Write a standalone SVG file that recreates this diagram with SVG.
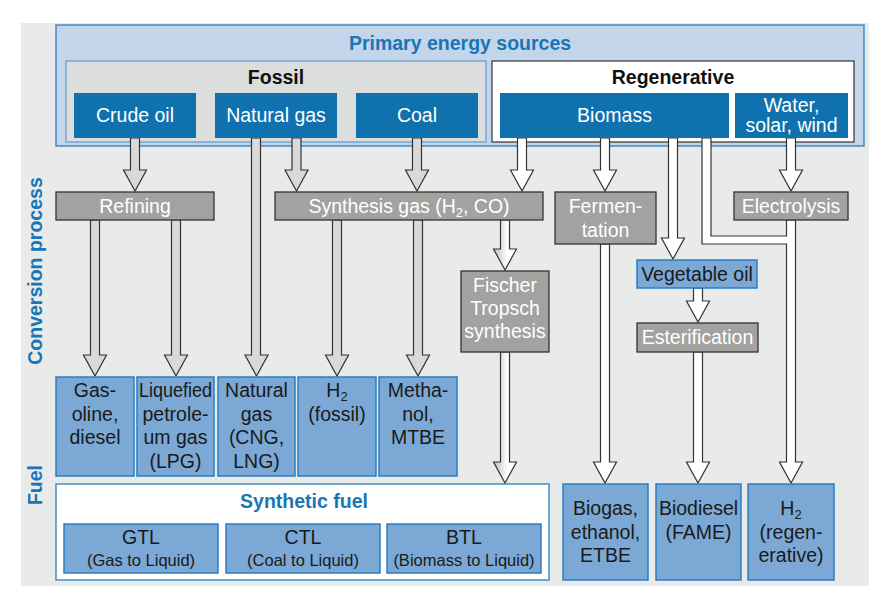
<svg xmlns="http://www.w3.org/2000/svg" width="891" height="602" viewBox="0 0 891 602">
<defs>
<linearGradient id="mix" x1="0" y1="0" x2="1" y2="0">
<stop offset="0" stop-color="#b9b9b9"/>
<stop offset="0.6" stop-color="#ffffff"/>
<stop offset="1" stop-color="#ffffff"/>
</linearGradient>
<style>
text{font-family:"Liberation Sans",Arial,sans-serif;font-size:19.5px;text-anchor:middle}
.src{fill:#0f71ad}
.proc{fill:#a2a2a1;stroke:#333;stroke-width:1.3}
.fuel{fill:#7ba8d4;stroke:#2a7fc1;stroke-width:1.5}
.w{fill:#fff}
.k{fill:#1a1a1a}
.ttl{font-weight:bold;fill:#1a75b5}
.hd{font-weight:bold;fill:#111}
.sm{font-size:16.5px}
.sub{font-size:13px}
.fa{fill:#d9d9d9;stroke:#333;stroke-width:1.2}
.ra{fill:#fff;stroke:#333;stroke-width:1.2}
.ma{fill:url(#mix);stroke:#333;stroke-width:1.2}
</style>
</defs>
<rect x="21" y="23" width="848" height="563" fill="#e9ebeb"/>
<g id="side-labels">
<text class="ttl" transform="translate(42,271) rotate(-90)">Conversion process</text>
<text class="ttl" transform="translate(42,485) rotate(-90)">Fuel</text>
</g>
<g id="primary">
<rect x="56" y="25" width="808" height="121" fill="#c2d5ea" stroke="#2b7fc0" stroke-width="1.3"/>
<text class="ttl" x="460" y="50">Primary energy sources</text>
</g>
<g id="fossil">
<rect x="66" y="61" width="420" height="81" fill="#dcdddd" stroke="#4a8cc4" stroke-width="1"/>
<text class="hd" x="276" y="84">Fossil</text>
</g>
<g id="regenerative">
<rect x="492" y="61" width="362" height="81" fill="#fff" stroke="#333" stroke-width="1.2"/>
<text class="hd" x="673" y="84">Regenerative</text>
</g>
<g id="connectors">
<polygon class="fa" points="130.5,138 139.5,138 139.5,170 146.5,170 135,191 123.5,170 130.5,170"/>
<polygon class="fa" points="251.5,138 260.5,138 260.5,355 268,355 256.5,376 245,355 251.5,355"/>
<polygon class="fa" points="292,138 301,138 301,170 308,170 296.5,191 285,170 292,170"/>
<polygon class="fa" points="412.5,138 421.5,138 421.5,170 428.5,170 417,191 405.5,170 412.5,170"/>
<polygon class="fa" points="90.5,220 99.5,220 99.5,355 106.5,355 95,376 83.5,355 90.5,355"/>
<polygon class="fa" points="171.5,220 180.5,220 180.5,355 187.5,355 176,376 164.5,355 171.5,355"/>
<polygon class="fa" points="332.5,220 341.5,220 341.5,355 348.5,355 337,376 325.5,355 332.5,355"/>
<polygon class="fa" points="413.5,220 422.5,220 422.5,355 429.5,355 418,376 406.5,355 413.5,355"/>
<polygon class="ma" points="500.5,220 509.5,220 509.5,249 516.5,249 505,270 493.5,249 500.5,249"/>
<polygon class="ma" points="500.5,352 509.5,352 509.5,462 516.5,462 505,483 493.5,462 500.5,462"/>
<polygon class="ra" points="517.5,138 526.5,138 526.5,170 533.5,170 522,191 510.5,170 517.5,170"/>
<polygon class="ra" points="600.5,138 609.5,138 609.5,170 616.5,170 605,191 593.5,170 600.5,170"/>
<polygon class="ra" points="668.5,138 677.5,138 677.5,238 684.5,238 673,259 661.5,238 668.5,238"/>
<polygon class="ra" points="693.5,288 702.5,288 702.5,301 709.5,301 698,322 686.5,301 693.5,301"/>
<polygon class="ra" points="693.5,352 702.5,352 702.5,462 709.5,462 698,483 686.5,462 693.5,462"/>
<polygon class="ra" points="600.5,244 609.5,244 609.5,462 616.5,462 605,483 593.5,462 600.5,462"/>
<polygon class="ra" points="786.5,138 795.5,138 795.5,170 802.5,170 791,191 779.5,170 786.5,170"/>
<polygon class="ra" points="702,138 702,244 786.5,244 786.5,462 779.5,462 791,483 802.5,462 795.5,462 795.5,220 786.5,220 786.5,236 711,236 711,138"/>
</g>
<g id="crude-oil"><rect class="src" x="74" y="93" width="122" height="45"/><text class="w" x="135" y="122">Crude oil</text></g>
<g id="natural-gas"><rect class="src" x="215" y="93" width="122" height="45"/><text class="w" x="276" y="122">Natural gas</text></g>
<g id="coal"><rect class="src" x="356" y="93" width="122" height="45"/><text class="w" x="417" y="122">Coal</text></g>
<g id="biomass"><rect class="src" x="500" y="93" width="229" height="45"/><text class="w" x="614.5" y="122">Biomass</text></g>
<g id="water-solar-wind"><rect class="src" x="735" y="93" width="113" height="45"/><text class="w" x="791.5" y="112">Water,</text><text class="w" x="791.5" y="132">solar, wind</text></g>
<g id="refining"><rect class="proc" x="56" y="192" width="158" height="28"/><text class="w" x="135" y="213">Refining</text></g>
<g id="synthesis-gas"><rect class="proc" x="275" y="192" width="268" height="28"/><text class="w" x="409" y="213">Synthesis gas (H<tspan class="sub" dy="4">2</tspan><tspan dy="-4">, CO)</tspan></text></g>
<g id="fermentation"><rect class="proc" x="555" y="192" width="101" height="52"/><text class="w" x="605.5" y="213">Fermen-</text><text class="w" x="605.5" y="237">tation</text></g>
<g id="electrolysis"><rect class="proc" x="734" y="192" width="114" height="28"/><text class="w" x="791" y="213">Electrolysis</text></g>
<g id="fischer-tropsch"><rect class="proc" x="461" y="271" width="88" height="81"/><text class="w" x="505" y="292">Fischer</text><text class="w" x="505" y="315">Tropsch</text><text class="w" x="505" y="338">synthesis</text></g>
<g id="vegetable-oil"><rect class="fuel" x="637" y="260" width="120" height="28"/><text class="k" x="697" y="281">Vegetable oil</text></g>
<g id="esterification"><rect class="proc" x="637" y="323" width="121" height="29"/><text class="w" x="697.5" y="344">Esterification</text></g>
<g id="gasoline-diesel"><rect class="fuel" x="56" y="377" width="78" height="99"/><text class="k" x="95" y="397">Gas-</text><text class="k" x="95" y="421">oline,</text><text class="k" x="95" y="444">diesel</text></g>
<g id="lpg"><rect class="fuel" x="137" y="377" width="77" height="99"/><text class="k" x="175.5" y="397" textLength="73" lengthAdjust="spacingAndGlyphs">Liquefied</text><text class="k" x="175.5" y="421">petrole-</text><text class="k" x="175.5" y="444">um gas</text><text class="k" x="175.5" y="468">(LPG)</text></g>
<g id="natural-gas-fuel"><rect class="fuel" x="218" y="377" width="77" height="99"/><text class="k" x="256.5" y="397">Natural</text><text class="k" x="256.5" y="421">gas</text><text class="k" x="256.5" y="444">(CNG,</text><text class="k" x="256.5" y="468">LNG)</text></g>
<g id="h2-fossil"><rect class="fuel" x="298" y="377" width="78" height="99"/><text class="k" x="337" y="397">H<tspan class="sub" dy="4">2</tspan></text><text class="k" x="337" y="421">(fossil)</text></g>
<g id="methanol"><rect class="fuel" x="379" y="377" width="78" height="99"/><text class="k" x="418" y="397">Metha-</text><text class="k" x="418" y="421">nol,</text><text class="k" x="418" y="444">MTBE</text></g>
<g id="synthetic-fuel">
<rect x="56" y="484" width="493" height="96" fill="#fff" stroke="#2a7fc1" stroke-width="1.3"/>
<text class="ttl" x="304" y="508">Synthetic fuel</text>
</g>
<g id="gtl"><rect class="fuel" x="64" y="524" width="154" height="49"/><text class="k" x="141" y="544">GTL</text><text class="k sm" x="141" y="566">(Gas to Liquid)</text></g>
<g id="ctl"><rect class="fuel" x="226" y="524" width="154" height="49"/><text class="k" x="303" y="544">CTL</text><text class="k sm" x="303" y="566">(Coal to Liquid)</text></g>
<g id="btl"><rect class="fuel" x="387" y="524" width="154" height="49"/><text class="k" x="464" y="544">BTL</text><text class="k sm" x="464" y="566">(Biomass to Liquid)</text></g>
<g id="biogas"><rect class="fuel" x="563" y="484" width="85" height="96"/><text class="k" x="605.5" y="515">Biogas,</text><text class="k" x="605.5" y="539">ethanol,</text><text class="k" x="605.5" y="562">ETBE</text></g>
<g id="biodiesel"><rect class="fuel" x="656" y="484" width="85" height="96"/><text class="k" x="698.5" y="515">Biodiesel</text><text class="k" x="698.5" y="539">(FAME)</text></g>
<g id="h2-regenerative"><rect class="fuel" x="748" y="484" width="86" height="96"/><text class="k" x="791" y="515">H<tspan class="sub" dy="4">2</tspan></text><text class="k" x="791" y="539">(regen-</text><text class="k" x="791" y="562">erative)</text></g>
</svg>
